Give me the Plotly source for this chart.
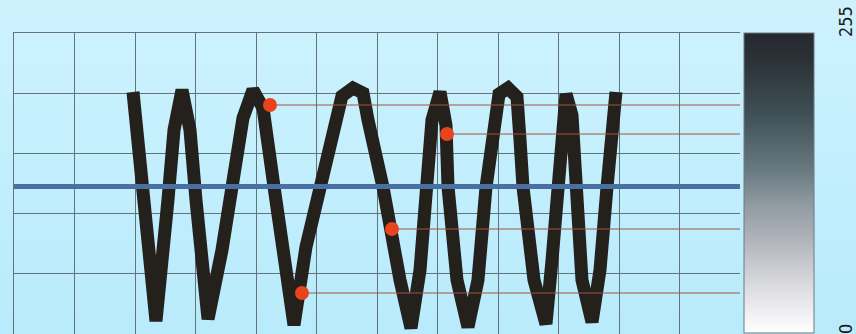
import plotly.graph_objects as go

# ---- data (x in grid columns, y in grid rows) ----
wave_x = [1.967, 2.347, 2.545, 2.645, 2.777, 2.909, 3.008, 3.207, 3.438, 3.620,
          3.785, 3.950, 4.116, 4.298, 4.446, 4.628, 4.826, 5.074, 5.289, 5.421,
          5.603, 5.769, 5.851, 6.099, 6.380, 6.562, 6.711, 6.810, 6.909, 7.041,
          7.140, 7.174, 7.322, 7.504, 7.669, 7.802, 7.934, 8.017, 8.165, 8.314,
          8.364, 8.413, 8.595, 8.793, 8.893, 8.975, 9.041, 9.124, 9.223, 9.306,
          9.388, 9.554, 9.686, 9.802, 9.950]
wave_y = [4.020, 0.216, 2.226, 3.389, 4.053, 3.389, 2.226, 0.249, 1.395, 2.442,
          3.588, 4.053, 3.754, 2.442, 1.229, 0.150, 1.445, 2.442, 3.306, 3.953,
          4.086, 4.003, 3.555, 2.442, 0.897, 0.100, 1.063, 2.442, 3.555, 4.020,
          3.472, 2.442, 0.897, 0.116, 0.897, 2.442, 3.555, 3.987, 4.086, 3.937,
          3.223, 2.442, 0.897, 0.166, 1.229, 2.442, 3.555, 3.987, 3.638, 2.442,
          0.897, 0.199, 1.063, 2.442, 4.020]

level_y = 2.45

dot_x = [4.231, 4.760, 6.248, 7.157]
dot_y = [3.804, 0.681, 1.744, 3.322]

x_end = 12
x_grid = [0, 1, 2, 3, 4, 5, 6, 7, 8, 9, 10, 11]
y_grid = [1, 2, 3, 4, 5]

scale_min, scale_max = 0, 255
scale_labels = ["255", "0"]

# ---- styles ----
GRID = "#62747a"
fig = go.Figure()

fig.add_trace(go.Scatter(x=wave_x, y=wave_y, mode="lines",
                         line=dict(color="#24211c", width=13),
                         hoverinfo="skip", showlegend=False))

fig.add_trace(go.Scatter(x=[0, x_end], y=[level_y, level_y], mode="lines",
                         line=dict(color="#4a6fa3", width=5),
                         hoverinfo="skip", showlegend=False))

for dx, dy in zip(dot_x, dot_y):
    fig.add_trace(go.Scatter(x=[dx, x_end], y=[dy, dy], mode="lines",
                             line=dict(color="#a0553f", width=1),
                             hoverinfo="skip", showlegend=False))

fig.add_trace(go.Scatter(x=dot_x, y=dot_y, mode="markers",
                         marker=dict(color="#e8441e", size=14, line=dict(width=0)),
                         showlegend=False))

# colour scale bar
cscale = [[0, "#ffffff"], [0.11, "#e6e6ea"], [0.21, "#cdced3"], [0.32, "#aeb1b8"],
          [0.433, "#8e9aa0"], [0.543, "#687a80"], [0.733, "#3e4f55"],
          [0.91, "#2b3237"], [1, "#25292f"]]
fig.add_trace(go.Scatter(x=[-5, -5], y=[-5, -5], mode="markers",
                         marker=dict(color=[scale_min, scale_max], cmin=scale_min, cmax=scale_max,
                                     colorscale=cscale, showscale=True,
                                     colorbar=dict(x=1.0055, xanchor="left", y=1, yanchor="top",
                                                   len=300, lenmode="pixels",
                                                   thickness=70, thicknessmode="pixels",
                                                   xpad=0, ypad=0, outlinewidth=1,
                                                   outlinecolor="#6b7a80", borderwidth=0,
                                                   showticklabels=False, ticks="")),
                         hoverinfo="skip", showlegend=False))

# background gradient bands (paper coordinates)
top = (0xcd, 0xf2, 0xfe)
bot = (0xb8, 0xeb, 0xfc)
n = 24
y0p, y1p = 0 - 0.02, 334 / 301 + 0.01
shapes = []
for i in range(n):
    t = i / (n - 1)
    c = tuple(round(bot[k] + (top[k] - bot[k]) * t) for k in range(3))
    ya = y0p + (y1p - y0p) * i / n
    yb = y0p + (y1p - y0p) * (i + 1) / n
    shapes.append(dict(type="rect", xref="paper", yref="paper", x0=-0.05, x1=1.2,
                       y0=ya, y1=yb + 0.002, fillcolor="rgb(%d,%d,%d)" % c,
                       line=dict(width=0), layer="below"))

FONT = "Liberation Sans Narrow, DejaVu Sans Condensed, Liberation Sans"
annots = [
    dict(text=scale_labels[0], x=(845 - 14) / 726, y=(334 - 22) / 301, xref="paper", yref="paper",
         textangle=-90, showarrow=False, xanchor="center", yanchor="middle",
         font=dict(family=FONT, size=18, color="#1a1a1a")),
    dict(text=scale_labels[1], x=(845 - 14) / 726, y=(334 - 329) / 301, xref="paper", yref="paper",
         textangle=-90, showarrow=False, xanchor="center", yanchor="middle",
         font=dict(family=FONT, size=18, color="#1a1a1a")),
]

fig.update_layout(
    width=856, height=334,
    margin=dict(l=14, r=116, t=33, b=0, pad=0),
    paper_bgcolor="#c3effd", plot_bgcolor="rgba(0,0,0,0)",
    shapes=shapes, annotations=annots, showlegend=False,
    xaxis=dict(range=[0, x_end], tickvals=x_grid, showticklabels=False, ticks="",
               showgrid=True, gridcolor=GRID, gridwidth=1, zeroline=False,
               showline=True, side="top", linecolor=GRID, linewidth=1, fixedrange=True),
    yaxis=dict(range=[0, 5], tickvals=y_grid, showticklabels=False, ticks="",
               showgrid=True, gridcolor=GRID, gridwidth=1, zeroline=False,
               showline=True, linecolor=GRID, linewidth=1, fixedrange=True),
)

fig.write_html("out.html", config={"displayModeBar": False},
               post_script="document.body.style.margin='0';document.body.style.overflow='hidden';")
